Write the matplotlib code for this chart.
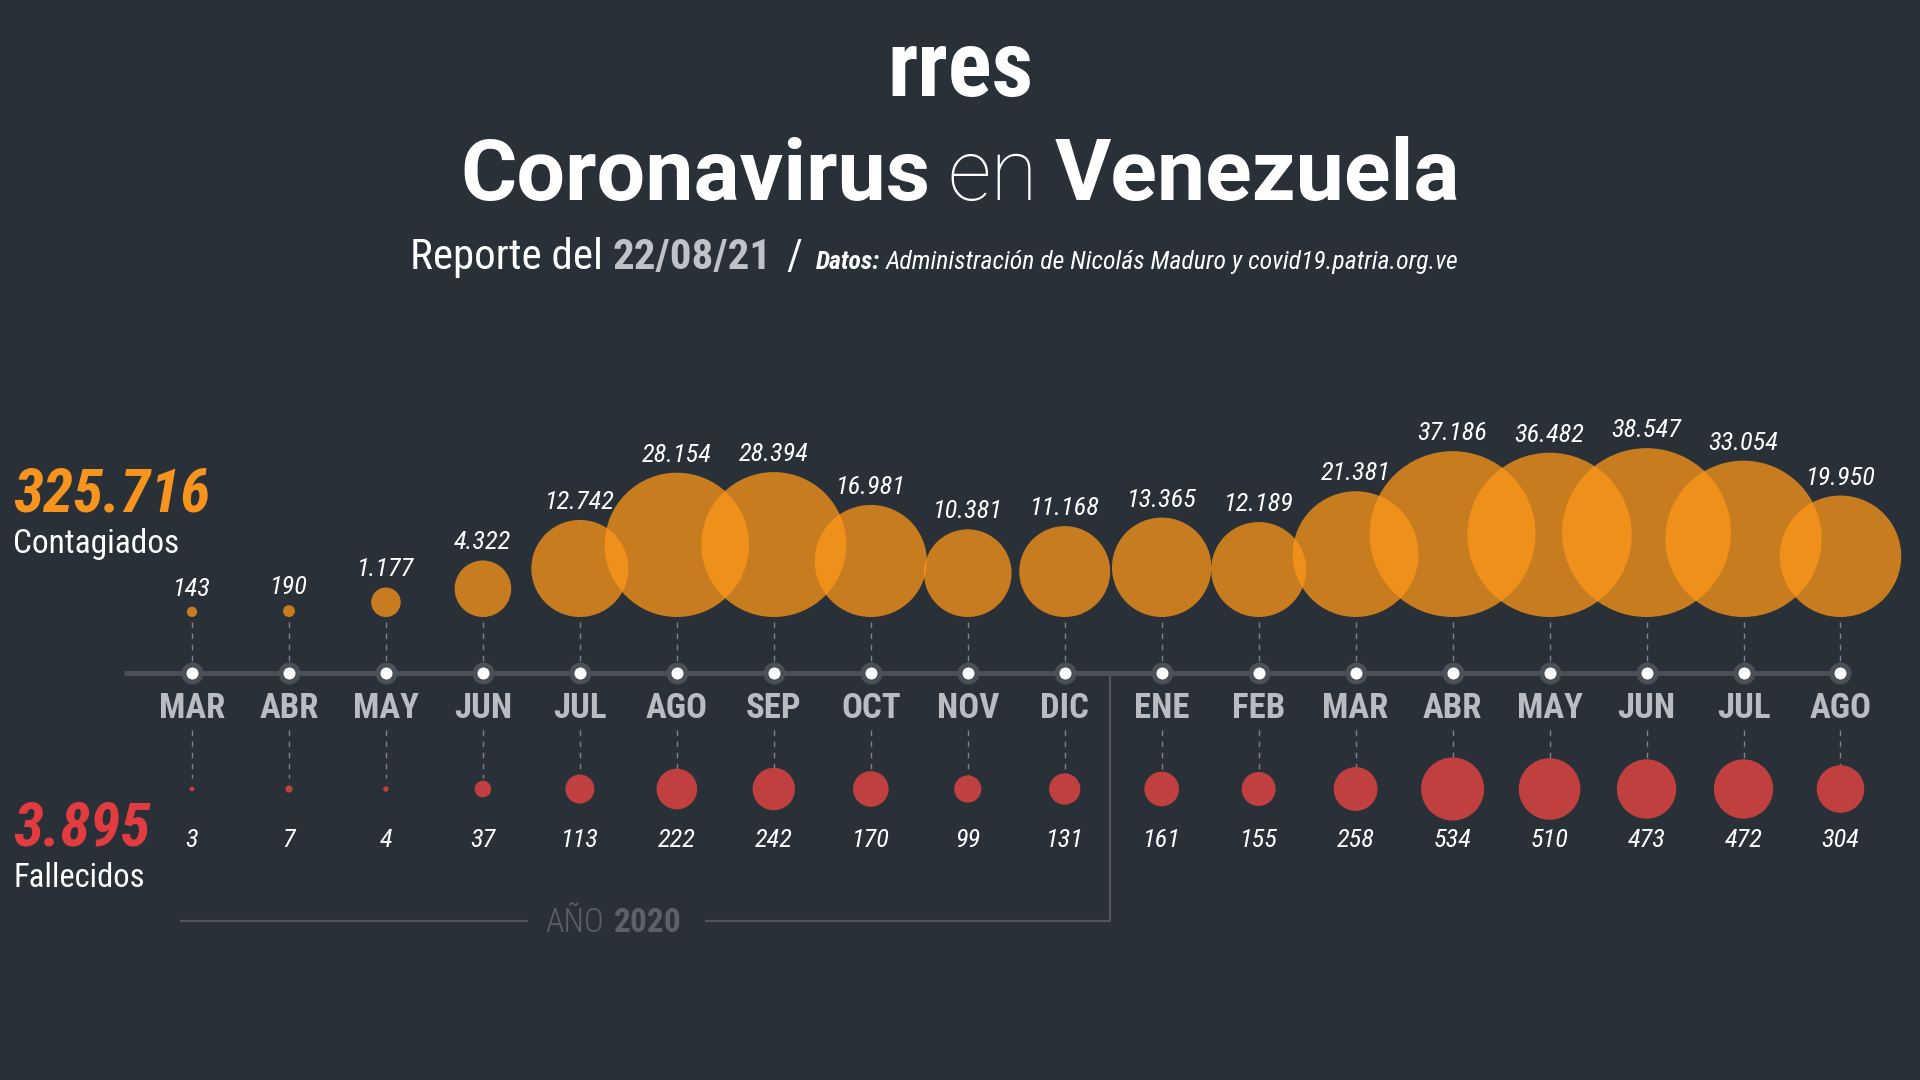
import matplotlib
matplotlib.use("Agg")
import matplotlib.pyplot as plt
from matplotlib.transforms import Affine2D
import numpy as np

# datos
meses = ["MAR", "ABR", "MAY", "JUN", "JUL", "AGO", "SEP", "OCT", "NOV",
         "DIC", "ENE", "FEB", "MAR", "ABR", "MAY", "JUN", "JUL", "AGO"]
contagiados = [143, 190, 1177, 4322, 12742, 28154, 28394, 16981, 10381,
               11168, 13365, 12189, 21381, 37186, 36482, 38547, 33054, 19950]
fallecidos = [3, 7, 4, 37, 113, 222, 242, 170, 99,
              131, 161, 155, 258, 534, 510, 473, 472, 304]
total_contagiados = "325.716"
total_fallecidos = "3.895"
fecha = "22/08/21"
fuente = "Administración de Nicolás Maduro y covid19.patria.org.ve"

BG = "#2a3038"
NARROW = ["Roboto Condensed", "Liberation Sans Narrow", "Roboto"]
ORANGE = "#fd9718"
RED = "#c0403f"


def fmt(v):
    return f"{v:,}".replace(",", ".")


fig = plt.figure(figsize=(19.2, 10.8), dpi=100, facecolor=BG)
ax = fig.add_axes([0, 0, 1, 1])
ax.set_xlim(-1.98, 17.82)
ax.set_ylim(1080, 0)
ax.axis("off")
px = Affine2D().scale(1, -1).translate(0, 1080)  # pixel coords, origin top-left
rend = fig.canvas.get_renderer()


def run(pieces, y, x0=None, center=None, gaps=None):
    texts = [ax.text(0, y, s, transform=px, va="baseline", ha="left", **kw)
             for s, kw in pieces]
    widths = [t.get_window_extent(rend).width for t in texts]
    gaps = gaps or [0] * (len(texts) - 1)
    total = sum(widths) + sum(gaps)
    x = x0 if center is None else center - total / 2
    for i, (t, w) in enumerate(zip(texts, widths)):
        t.set_x(x)
        x += w + (gaps[i] if i < len(gaps) else 0)


x = np.arange(len(meses))
c = np.array(contagiados, dtype=float)
d = np.array(fallecidos, dtype=float)

# burbujas de contagios (area ~ valor), alineadas abajo
r_c = 0.43 * np.sqrt(c)
y_c = 617 - r_c
ax.scatter(x, y_c, s=(2 * r_c * 0.72) ** 2, color=ORANGE, alpha=0.75,
           linewidths=0, zorder=3)
for i in range(len(x)):
    ax.text(x[i], y_c[i] - r_c[i] - 11, fmt(contagiados[i]), ha="center",
            va="baseline", fontsize=19, style="italic", color="white",
            family=NARROW, zorder=6)

# conectores
ax.vlines(x, 622, 662, colors="#7d8288", lw=1, linestyles=(0, (4, 4)), zorder=1)
ax.vlines(x, 730, 778, colors="#7d8288", lw=1, linestyles=(0, (4, 4)), zorder=1)

# linea de tiempo
ax.hlines(673, -0.7, x[-1], colors="#4b5057", lw=3.6, zorder=2)
ax.scatter(x, np.full(len(x), 673), s=(22 * 0.72) ** 2, color="#4b5057",
           linewidths=0, zorder=4)
ax.scatter(x, np.full(len(x), 673), s=(12 * 0.72) ** 2, color="white",
           linewidths=0, zorder=5)
for i, m in enumerate(meses):
    ax.text(x[i], 718, m, ha="center", va="baseline", fontsize=25,
            fontweight="bold", color="#b9bcc0", family=NARROW)

# fallecidos
r_d = 1.365 * np.sqrt(d)
ax.scatter(x, np.full(len(x), 789), s=(2 * r_d * 0.72) ** 2, color=RED,
           linewidths=0, zorder=3)
for i in range(len(x)):
    ax.text(x[i], 847, fmt(fallecidos[i]), ha="center", va="baseline",
            fontsize=19, style="italic", color="white", family=NARROW)

# totales
ax.text(13, 512, total_contagiados, transform=px, fontsize=44,
        fontweight="bold", style="italic", color="#f7941d", family=NARROW)
ax.text(13, 553, "Contagiados", transform=px, fontsize=24, color="white",
        family=NARROW)
ax.text(13, 845, total_fallecidos, transform=px, fontsize=44,
        fontweight="bold", style="italic", color="#e23c40", family=NARROW)
ax.text(13, 887, "Fallecidos", transform=px, fontsize=23.5, color="white",
        family=NARROW)

# corchete año 2020
ax.plot([181, 527], [921, 921], transform=px, color="#50565c", lw=1.5)
ax.plot([706, 1110, 1110], [921, 921, 677], transform=px, color="#50565c", lw=1.5)
run([("AÑO", dict(fontsize=24, fontweight="light", color="#5c6167", family=NARROW)),
     ("2020", dict(fontsize=24, fontweight="bold", color="#5c6167", family=NARROW))],
    932, x0=545, gaps=[10])

# cabecera
ax.text(960, 96, "rres", transform=px, ha="center", va="baseline", fontsize=66,
        fontweight="heavy", color="white", family=NARROW)
run([("Coronavirus", dict(fontsize=62, fontweight="bold", color="white", family="Roboto")),
     ("en", dict(fontsize=62, fontweight="light", color="white", family="Roboto")),
     ("Venezuela", dict(fontsize=62, fontweight="bold", color="white", family="Roboto"))],
    200, center=960, gaps=[17, 17])
run([("Reporte del", dict(fontsize=31, color="white", family=NARROW)),
     (fecha, dict(fontsize=31, fontweight="bold", color="#bfc2c6", family=NARROW)),
     ("/", dict(fontsize=31, color="white", family=NARROW)),
     ("Datos:", dict(fontsize=18.5, fontweight="bold", style="italic", color="white", family=NARROW)),
     (fuente, dict(fontsize=18.5, style="italic", color="white", family=NARROW))],
    269, x0=410, gaps=[10, 14, 14, 6])

fig.savefig("out.png", dpi=100, facecolor=BG)
